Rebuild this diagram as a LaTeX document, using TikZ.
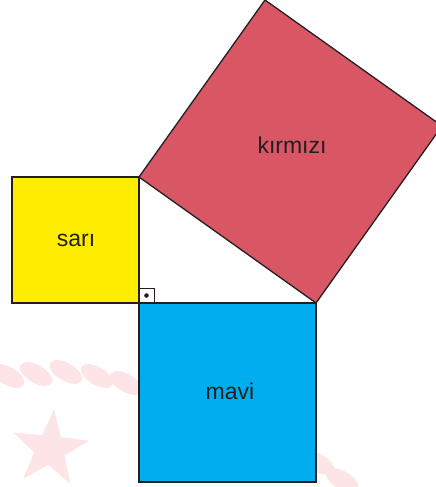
\documentclass[tikz,border=0pt]{standalone}
\usepackage{fontspec}
\setmainfont{Liberation Sans}
\usetikzlibrary{shapes.geometric}
\definecolor{sariC}{HTML}{FFED00}
\definecolor{kirmiziC}{HTML}{D95665}
\definecolor{maviC}{HTML}{00AEEF}
\definecolor{edgeC}{HTML}{231F20}
\definecolor{wmC}{HTML}{FCE4E7}
\begin{document}
\begin{tikzpicture}[x=1pt,y=-1pt,
  sq/.style={draw=edgeC,line width=1.3pt,line join=miter},
  lbl/.style={font=\fontsize{23}{23}\selectfont, text=edgeC, inner sep=0pt},
  rope/.style={fill=wmC, draw=none}]
\useasboundingbox (0,0) rectangle (436,487);
\clip (0,0) rectangle (436,487);
% faint watermark
\node[star, star points=5, star point ratio=2.5, minimum size=80pt, inner sep=0pt, fill=wmC, rotate=-6] (wstar) at (50,449) {};
\foreach \px/\py in {8/376, 36/374, 66/372, 97/376, 126/383, 318/463, 342/480}
  \fill[rope, rotate around={-30:(\px,\py)}] (\px,\py) ellipse (18pt and 9pt);
% triangle vertices
\coordinate (A) at (139,177);
\coordinate (B) at (316,303);
\coordinate (C) at (139,303);
% squares
\filldraw[sq, fill=sariC] (12,177) rectangle (C);
\filldraw[sq, fill=maviC] (C) rectangle (316,482);
\filldraw[sq, fill=kirmiziC] (A) -- (B) -- (442,126) -- (265,0) -- cycle;
% right angle mark
\draw[edgeC, line width=1pt] (139,288) rectangle (154,303);
\fill[edgeC] (146.5,295.5) circle (2.3pt);
% labels
\node[lbl] (sari) at (76,240) {sarı};
\node[lbl] (mavi) at (230,391) {mavi};
\node[lbl] (kirmizi) at (292,145) {kırmızı};
\end{tikzpicture}
\end{document}
